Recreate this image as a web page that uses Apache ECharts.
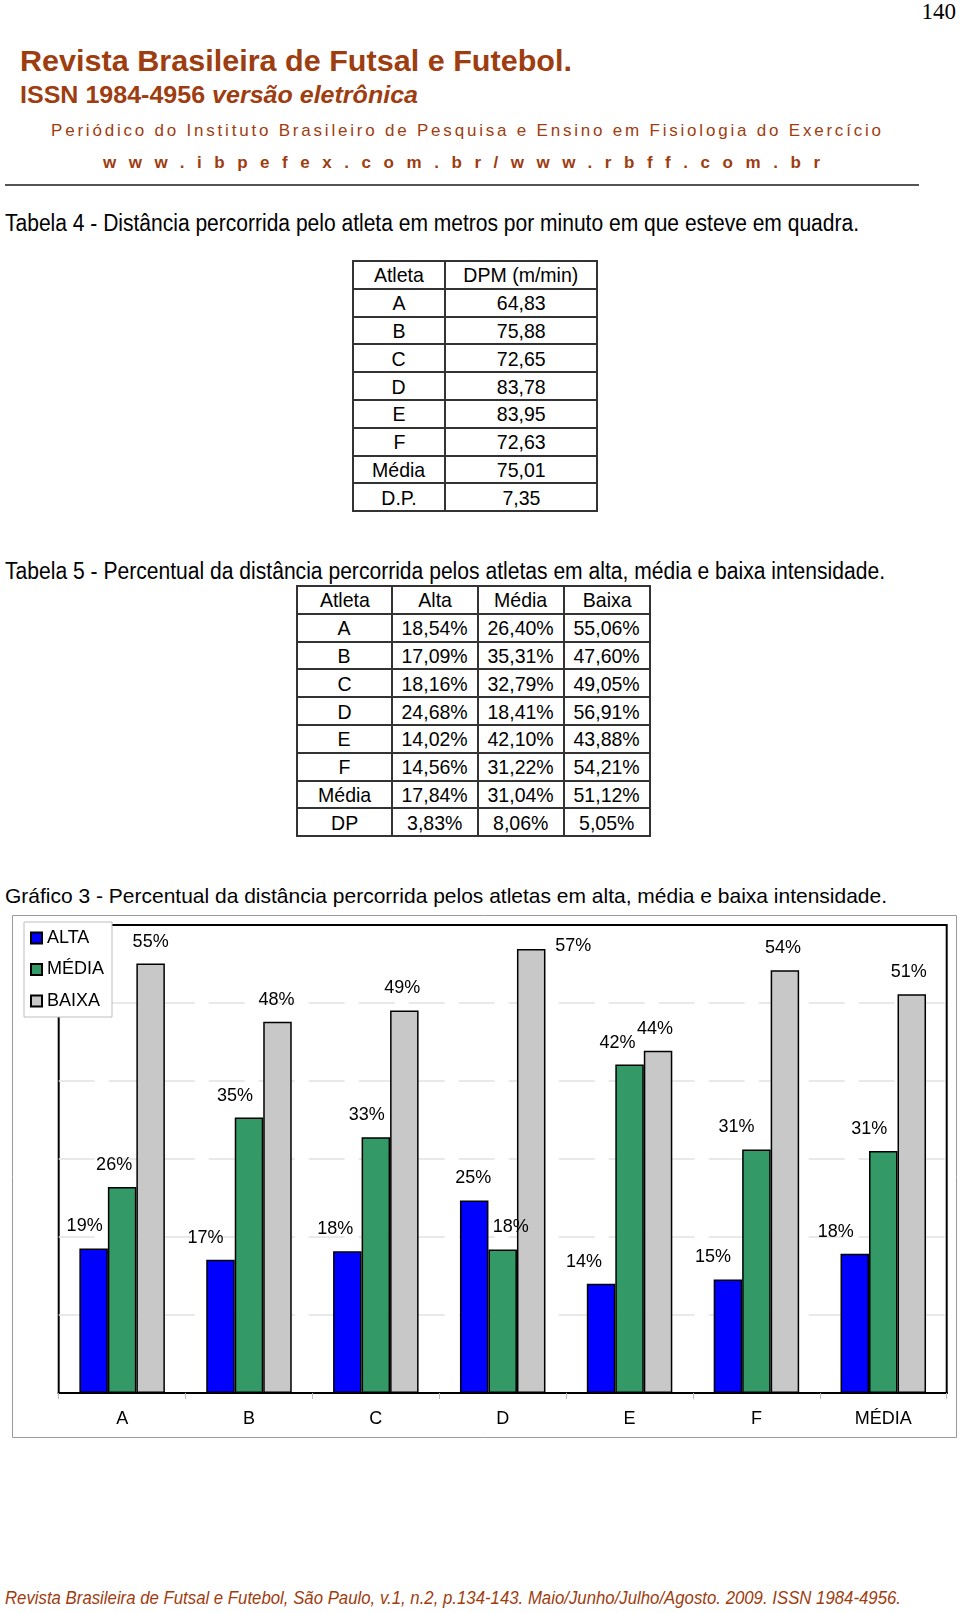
<!DOCTYPE html>
<html><head><meta charset="utf-8">
<script src="https://cdn.jsdelivr.net/npm/echarts@6/dist/echarts.min.js"></script>
<style>
html,body{margin:0;padding:0;background:#fff;}
body{width:960px;height:1613px;position:relative;overflow:hidden;font-family:"Liberation Sans",Arial,sans-serif;color:#000;}
.t{position:absolute;white-space:nowrap;line-height:1;}
.brown{color:#9e3d10;}
table{position:absolute;border-collapse:collapse;table-layout:fixed;font-family:"Liberation Sans",Arial,sans-serif;font-size:21px;}
td{border:2px solid #333;padding:0;text-align:center;height:25.8px;line-height:25px;white-space:nowrap;}
td span{display:inline-block;transform:scaleX(0.93);}
#chart{position:absolute;left:0;top:900px;width:960px;height:560px;}
</style></head>
<body>
<div class="t" style="right:4px;top:0px;font-family:'Liberation Serif','Times New Roman',serif;font-size:23px;">140</div>
<div class="t brown" data-w="552" style="left:20px;top:47px;font-size:29px;font-weight:bold;">Revista Brasileira de Futsal e Futebol.</div>
<div class="t brown" data-w="398" style="left:20px;top:83px;font-size:24px;font-weight:bold;">ISSN 1984-4956 <i>versão eletrônica</i></div>
<div class="t brown" data-w="830" data-m="ls" style="left:51px;top:122px;font-size:17px;">Periódico do Instituto Brasileiro de Pesquisa e Ensino em Fisiologia do Exercício</div>
<div class="t brown" data-w="717" data-m="ls" style="left:103px;top:154px;font-size:17px;font-weight:bold;">www.ibpefex.com.br/www.rbff.com.br</div>
<div style="position:absolute;left:5px;top:184px;width:914px;height:2px;background:#555;"></div>

<div class="t" data-w="854" style="left:5px;top:212px;font-size:23px;">Tabela 4 - Distância percorrida pelo atleta em metros por minuto em que esteve em quadra.</div>
<table id="t4" style="left:352px;top:260px;width:244px;"></table>

<div class="t" data-w="880" style="left:5px;top:560px;font-size:23px;">Tabela 5 - Percentual da distância percorrida pelos atletas em alta, média e baixa intensidade.</div>
<table id="t5" style="left:296px;top:585px;width:353px;"></table>

<div class="t" data-w="882" style="left:5px;top:885px;font-size:21px;">Gráfico 3 - Percentual da distância percorrida pelos atletas em alta, média e baixa intensidade.</div>
<div id="chart"></div>

<div class="t brown" data-w="896" style="left:5px;top:1588px;font-size:19px;font-style:italic;">Revista Brasileira de Futsal e Futebol, São Paulo, v.1, n.2, p.134-143. Maio/Junho/Julho/Agosto. 2009. ISSN 1984-4956.</div>

<script>
// ---- Table 4 data ----
const t4Header = ['Atleta', 'DPM (m/min)'];
const t4Atleta = ['A', 'B', 'C', 'D', 'E', 'F', 'Média', 'D.P.'];
const t4Dpm = ['64,83', '75,88', '72,65', '83,78', '83,95', '72,63', '75,01', '7,35'];

// ---- Table 5 data ----
const t5Header = ['Atleta', 'Alta', 'Média', 'Baixa'];
const t5Atleta = ['A', 'B', 'C', 'D', 'E', 'F', 'Média', 'DP'];
const t5Alta = ['18,54%', '17,09%', '18,16%', '24,68%', '14,02%', '14,56%', '17,84%', '3,83%'];
const t5Media = ['26,40%', '35,31%', '32,79%', '18,41%', '42,10%', '31,22%', '31,04%', '8,06%'];
const t5Baixa = ['55,06%', '47,60%', '49,05%', '56,91%', '43,88%', '54,21%', '51,12%', '5,05%'];

// ---- Chart data ----
const categories = ['A', 'B', 'C', 'D', 'E', 'F', 'MÉDIA'];
const seriesNames = ['ALTA', 'MÉDIA', 'BAIXA'];
const alta = [18.54, 17.09, 18.16, 24.68, 14.02, 14.56, 17.84];
const media = [26.40, 35.31, 32.79, 18.41, 42.10, 31.22, 31.04];
const baixa = [55.06, 47.60, 49.05, 56.91, 43.88, 54.21, 51.12];
const yMin = 0, yMax = 60, yStep = 10;

// ---- fit header/caption texts to their widths ----
document.querySelectorAll('[data-w]').forEach(el => {
  const target = +el.dataset.w;
  const w = el.getBoundingClientRect().width;
  if (el.dataset.m === 'ls') {
    const n = el.textContent.length;
    el.style.letterSpacing = ((target - w) / (n - 1)) + 'px';
  } else {
    el.style.transformOrigin = 'left top';
    el.style.transform = 'scaleX(' + (target / w) + ')';
  }
});

// ---- build tables ----
function buildTable(id, header, cols, widths) {
  const t = document.getElementById(id);
  let html = '<colgroup>' + widths.map(w => '<col style="width:' + w + 'px">').join('') + '</colgroup>';
  html += '<tr>' + header.map(h => '<td><span>' + h + '</span></td>').join('') + '</tr>';
  for (let i = 0; i < cols[0].length; i++) {
    html += '<tr>' + cols.map(c => '<td><span>' + c[i] + '</span></td>').join('') + '</tr>';
  }
  t.innerHTML = html;
}
buildTable('t4', t4Header, [t4Atleta, t4Dpm], [92, 152]);
buildTable('t5', t5Header, [t5Atleta, t5Alta, t5Media, t5Baixa], [95, 86, 86, 86]);

// ---- label nudges (style only) ----
const shiftAlta = [-9, -15, -12, -1, -17, -15, -19];
const shiftMedia = [-8, -14, -9, 8, -12, -20, -14];
const shiftBaixa = [0, -1, -2, 42, -3, -2, -3];
const dyBaixa = [0, 0, 0, 19, 0, 0, 0];

function mkSeries(name, vals, color, sx, sy) {
  return {
    name: name, type: 'bar', barWidth: 28.5, barGap: '0%',
    data: vals.map((v, i) => ({ value: v, label: { offset: [sx[i], sy ? sy[i] : 0] } })),
    itemStyle: { color: color, borderColor: '#000', borderWidth: 1.5 },
    label: {
      show: true, position: 'top', distance: 13, fontSize: 18, color: '#000',
      fontFamily: 'Liberation Sans, Arial, sans-serif',
      formatter: p => Math.round(p.value) + '%'
    }
  };
}

const chart = echarts.init(document.getElementById('chart'), null, { renderer: 'canvas' });
chart.setOption({
  animation: false,
  textStyle: { fontFamily: 'Liberation Sans, Arial, sans-serif' },
  graphic: [{
    type: 'rect', z: -10, silent: true,
    shape: { x: 12.5, y: 15.5, width: 944, height: 522 },
    style: { fill: '#fff', stroke: '#9a9a9a', lineWidth: 1 }
  }],
  grid: { left: 58.7, right: 13.3, top: 25, bottom: 67, show: true, borderColor: '#000', borderWidth: 2, backgroundColor: 'transparent' },
  legend: {
    data: seriesNames, orient: 'vertical', left: 24, top: 22,
    padding: [7, 8, 7, 6], itemWidth: 11, itemHeight: 11, itemGap: 13.5, itemTextGap: 7,
    icon: 'rect', backgroundColor: '#fff', borderColor: '#bdbdbd', borderWidth: 1,
    textStyle: { fontSize: 18, color: '#000' }
  },
  xAxis: {
    type: 'category', data: categories,
    axisLine: { show: true, lineStyle: { color: '#000', width: 2 } },
    axisTick: { show: true, length: 6, lineStyle: { color: '#bbb' } },
    axisLabel: { fontSize: 18, color: '#000', margin: 17 }
  },
  yAxis: {
    type: 'value', min: yMin, max: yMax, interval: yStep,
    axisLabel: { show: false }, axisLine: { show: false }, axisTick: { show: false },
    splitLine: { show: true, showMinLine: false, showMaxLine: false, lineStyle: { color: '#e2e2e2', width: 1.5, type: [36, 14] } }
  },
  series: [
    mkSeries(seriesNames[0], alta, '#0000ff', shiftAlta),
    mkSeries(seriesNames[1], media, '#339966', shiftMedia),
    mkSeries(seriesNames[2], baixa, '#c8c8c8', shiftBaixa, dyBaixa)
  ]
});
</script>
</body></html>
